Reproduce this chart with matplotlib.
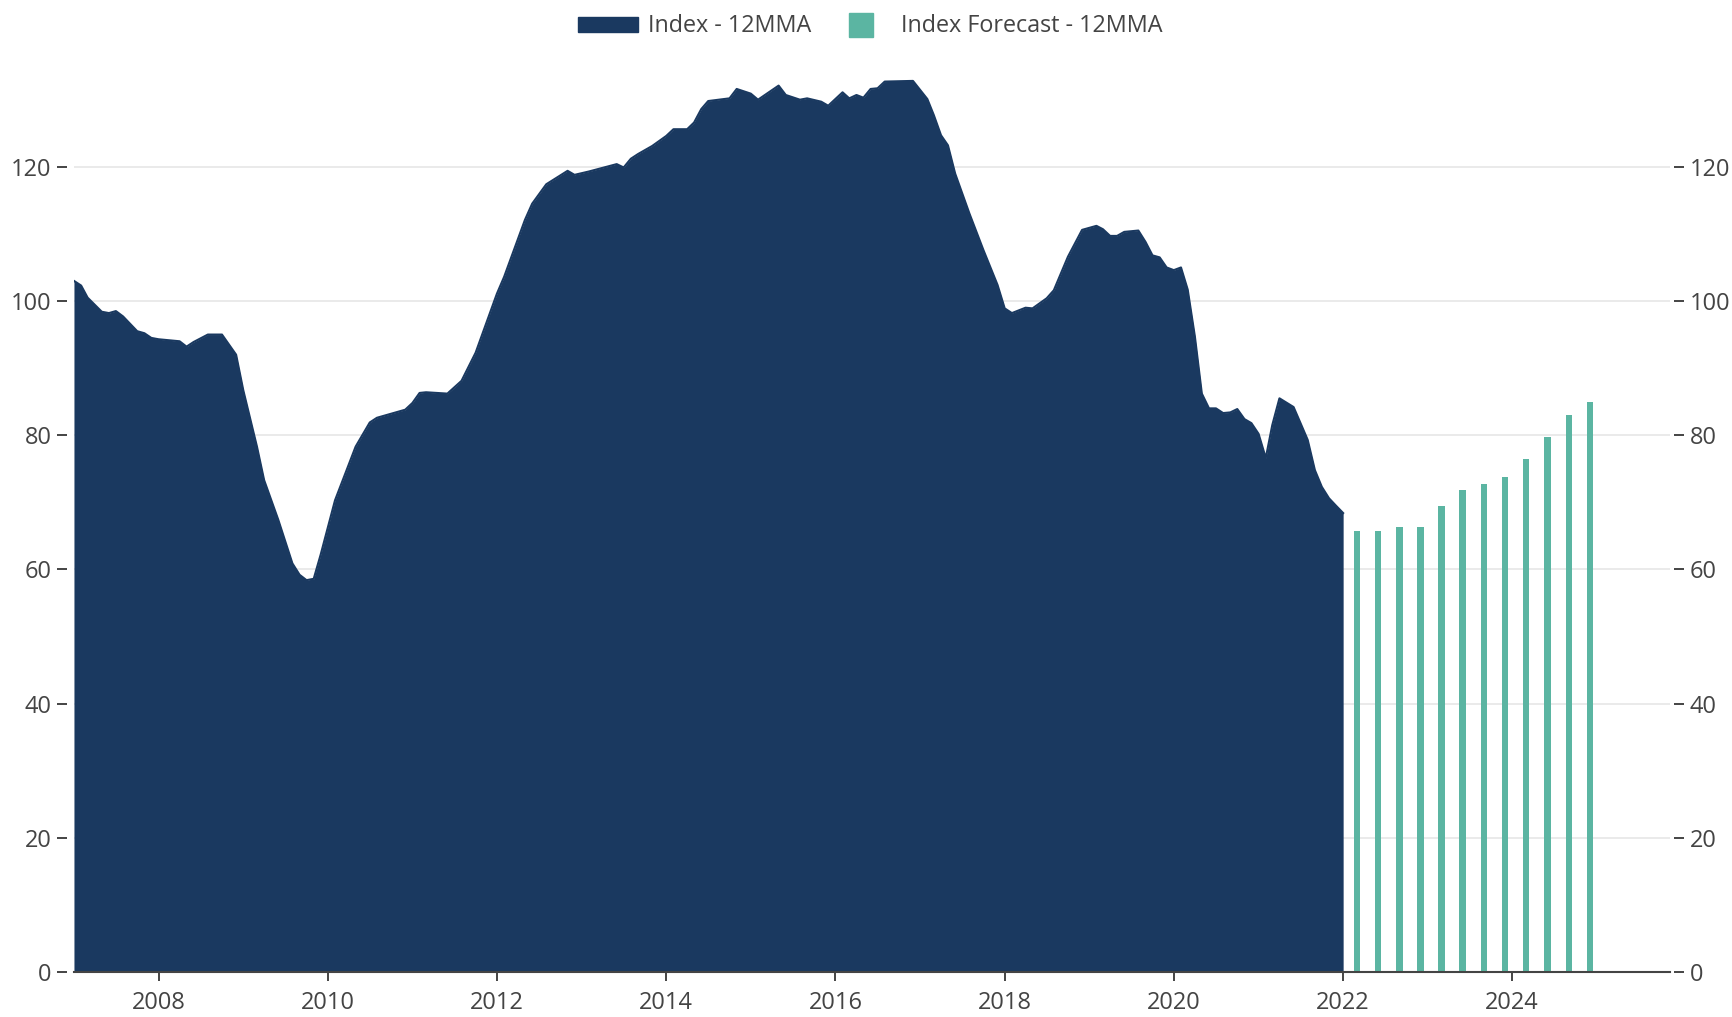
import matplotlib
matplotlib.use('Agg')
import matplotlib.pyplot as plt
from matplotlib.patches import Rectangle
import pandas as pd

# 12-month moving average index (monthly)
index_months = [
    '2007-01', '2007-02', '2007-03', '2007-05', '2007-06', '2007-07', '2007-08', '2007-10',
    '2007-11', '2007-12', '2008-01', '2008-04', '2008-05', '2008-06', '2008-08', '2008-10',
    '2008-12', '2009-01', '2009-03', '2009-04', '2009-06', '2009-08', '2009-09', '2009-10',
    '2009-11', '2009-12', '2010-02', '2010-05', '2010-07', '2010-08', '2010-12', '2011-01',
    '2011-02', '2011-03', '2011-06', '2011-08', '2011-10', '2012-01', '2012-02', '2012-05',
    '2012-06', '2012-08', '2012-11', '2012-12', '2013-02', '2013-06', '2013-07', '2013-08',
    '2013-09', '2013-11', '2014-01', '2014-02', '2014-04', '2014-05', '2014-06', '2014-07',
    '2014-10', '2014-11', '2015-01', '2015-02', '2015-05', '2015-06', '2015-08', '2015-09',
    '2015-11', '2015-12', '2016-02', '2016-03', '2016-04', '2016-05', '2016-06', '2016-07',
    '2016-08', '2016-12', '2017-02', '2017-03', '2017-04', '2017-05', '2017-06', '2017-08',
    '2017-10', '2017-12', '2018-01', '2018-02', '2018-04', '2018-05', '2018-07', '2018-08',
    '2018-10', '2018-12', '2019-02', '2019-03', '2019-04', '2019-05', '2019-06', '2019-08',
    '2019-09', '2019-10', '2019-11', '2019-12', '2020-01', '2020-02', '2020-03', '2020-04',
    '2020-05', '2020-06', '2020-07', '2020-08', '2020-09', '2020-10', '2020-11', '2020-12',
    '2021-01', '2021-02', '2021-03', '2021-04', '2021-06', '2021-07', '2021-08', '2021-09',
    '2021-10', '2021-11', '2021-12', '2022-01',
]
index_values = [
    103.0, 102.3, 100.5, 98.4, 98.2, 98.5, 97.7, 95.5,
    95.2, 94.5, 94.3, 94.0, 93.2, 93.9, 95.0, 95.0,
    92.0, 86.7, 78.3, 73.3, 67.4, 60.9, 59.2, 58.4,
    58.6, 62.2, 70.3, 78.3, 81.9, 82.6, 83.8, 84.8,
    86.3, 86.4, 86.2, 88.1, 92.3, 101.1, 103.6, 112.1,
    114.5, 117.4, 119.4, 118.8, 119.3, 120.4, 119.9, 121.2,
    121.9, 123.1, 124.6, 125.6, 125.6, 126.6, 128.6, 129.8,
    130.2, 131.6, 130.9, 130.0, 132.1, 130.7, 130.0, 130.2,
    129.7, 129.1, 131.1, 130.2, 130.7, 130.3, 131.6, 131.7,
    132.7, 132.8, 130.1, 127.7, 124.7, 123.2, 119.0, 113.1,
    107.6, 102.4, 98.9, 98.2, 99.0, 98.9, 100.4, 101.6,
    106.6, 110.6, 111.2, 110.7, 109.7, 109.7, 110.3, 110.5,
    108.8, 106.8, 106.5, 105.0, 104.6, 105.0, 101.7, 94.7,
    86.2, 84.0, 84.0, 83.3, 83.4, 83.9, 82.4, 81.8,
    80.2, 76.6, 81.5, 85.5, 84.2, 81.8, 79.3, 74.8,
    72.3, 70.6, 69.5, 68.4,
]

# quarterly forecast
forecast_months = ['2022-03', '2022-06', '2022-09', '2022-12',
                   '2023-03', '2023-06', '2023-09', '2023-12',
                   '2024-03', '2024-06', '2024-09', '2024-12']
forecast_values = [65.8, 65.7, 66.3, 66.3, 69.5, 71.8, 72.8, 73.7, 76.4, 79.7, 83.0, 84.9]

year_ticks = [2008, 2010, 2012, 2014, 2016, 2018, 2020, 2022, 2024]
y_ticks = [0, 20, 40, 60, 80, 100, 120]

navy = '#1a3960'
teal = '#5bb5a2'
grey = '#444444'

plt.rcParams['font.family'] = ['Open Sans', 'DejaVu Sans']

fig = plt.figure(figsize=(17.32, 10.17), dpi=100)
ax = fig.add_axes([0.0427, 0.0442, 0.9215, 0.9066])

x = pd.to_datetime(index_months)
ax.fill_between(x, index_values, 0, color=navy, lw=0, zorder=2)
ax.plot(x, index_values, color=navy, lw=1.5, zorder=2)
ax.bar(pd.to_datetime(forecast_months), forecast_values, width=28, color=teal, zorder=2)

ax.set_xlim(pd.Timestamp('2007-01-01'), pd.Timestamp('2025-11-12'))
ax.set_ylim(0, 137.4)
ax.set_xticks(pd.to_datetime([f'{y}-01-01' for y in year_ticks]))
ax.set_xticklabels([str(y) for y in year_ticks])
ax.set_yticks(y_ticks)
ax.grid(axis='y', color='#e6e6e6', lw=1.2)
ax.set_axisbelow(True)

for s in ['top', 'left', 'right']:
    ax.spines[s].set_visible(False)
ax.spines['bottom'].set_color(grey)
ax.spines['bottom'].set_linewidth(1.5)
ax.spines['bottom'].set_zorder(3)
ax.spines['left'].set_position(('outward', 5))
ax.spines['right'].set_position(('outward', 3))

ax.tick_params(axis='y', left=True, right=True, labelleft=True, labelright=True,
               length=7, width=1.4, color=grey, labelcolor=grey, labelsize=17, pad=4)
ax.tick_params(axis='x', length=6.5, width=1.4, color=grey, labelcolor=grey,
               labelsize=17, pad=7.5)

# legend drawn by hand (wide swatch for the area, square for the bars)
W, H = 1732, 1017
fig.add_artist(Rectangle((578 / W, 1 - 32 / H), 60 / W, 15.5 / H,
                         transform=fig.transFigure, color=navy))
fig.text(648 / W, 1 - 26 / H, 'Index - 12MMA', ha='left', va='center',
         fontsize=16.8, color=grey)
fig.add_artist(Rectangle((849 / W, 1 - 36.5 / H), 24 / W, 23.5 / H,
                         transform=fig.transFigure, color=teal))
fig.text(901 / W, 1 - 26 / H, 'Index Forecast - 12MMA', ha='left', va='center',
         fontsize=16.8, color=grey)

fig.savefig('out.png', dpi=100)
